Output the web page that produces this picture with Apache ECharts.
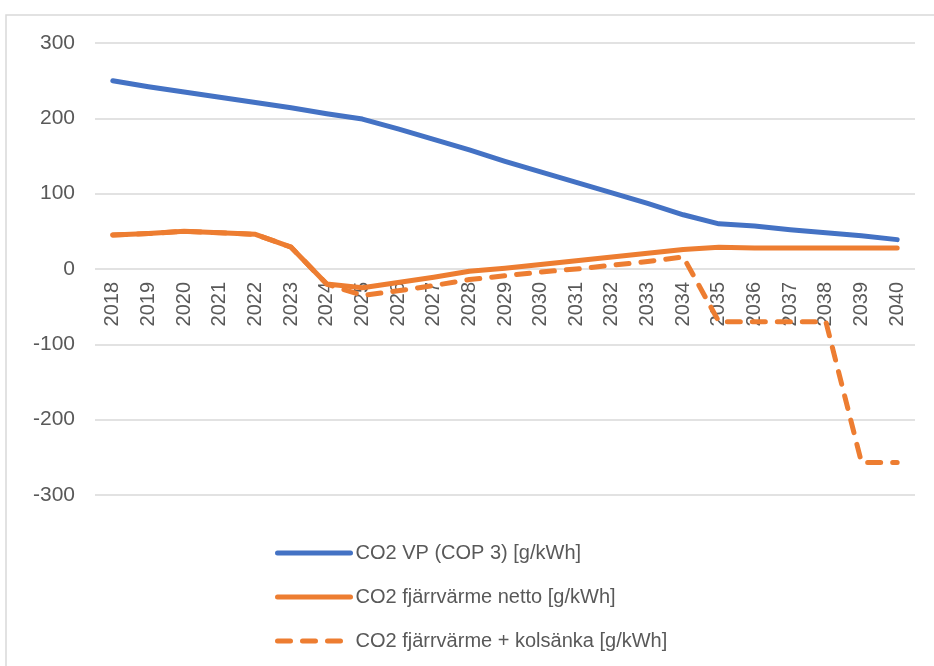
<!DOCTYPE html>
<html>
<head>
<meta charset="utf-8">
<style>
  html, body { margin: 0; padding: 0; background: #fff; }
  #chart { width: 934px; height: 666px; }
</style>
<script src="https://cdn.jsdelivr.net/npm/echarts@6/dist/echarts.min.js"></script>
</head>
<body>
<div id="chart"></div>
<script>
// years on the x axis
const years = ['2018', '2019', '2020', '2021', '2022', '2023', '2024', '2025', '2026', '2027', '2028',
  '2029', '2030', '2031', '2032', '2033', '2034', '2035', '2036', '2037', '2038', '2039', '2040']

const vpCop3 = [250, 242, 235, 228, 221, 214, 206, 199, 186, 172, 158,
  143, 129, 115, 101, 87, 72, 60, 57, 52, 48, 44, 39]

const fvNetto = [45, 47, 50, 48, 46, 29, -20, -25, -18, -11, -3,
  1, 6, 11, 16, 21, 26, 29, 28, 28, 28, 28, 28]

const fvKolsanka = [45, 47, 50, 48, 46, 29, -20, -35, -29, -22, -14,
  -9, -4, 0, 5, 10, 16, -70, -70, -70, -70, -257, -257]

const names = [
  'CO2 VP (COP 3) [g/kWh]',
  'CO2 fjärrvärme netto [g/kWh]',
  'CO2 fjärrvärme + kolsänka [g/kWh]'
]

const blue = '#4472C4'
const orange = '#ED7D31'
const font = 'Liberation Sans'

const chart = echarts.init(document.getElementById('chart'))

chart.setOption({
  animation: false,
  textStyle: { fontFamily: font },
  graphic: [{
    type: 'rect',
    shape: { x: 6, y: 15, width: 1000, height: 1000 },
    style: { fill: 'none', stroke: '#d9d9d9', lineWidth: 1.5 },
    silent: true
  }],
  grid: {
    left: 95,
    right: 19,
    top: 43,
    bottom: 171
  },
  legend: {
    orient: 'vertical',
    left: 270,
    top: 538,
    itemWidth: 73,
    itemHeight: 20,
    itemGap: 24,
    itemStyle: { color: 'rgba(0,0,0,0)', borderWidth: 0 },
    lineStyle: { width: 5, cap: 'round' },
    textStyle: { fontSize: 20, color: '#595959', fontFamily: font, lineHeight: 20 },
    data: names
  },
  xAxis: {
    type: 'category',
    data: years,
    boundaryGap: true,
    // labels sit on the zero line (half of the y range above the bottom)
    offset: -226,
    axisTick: { show: false },
    axisLine: { show: false, onZero: false },
    axisLabel: {
      rotate: 90,
      interval: 0,
      margin: 13,
      fontSize: 20,
      color: '#595959'
    }
  },
  yAxis: {
    type: 'value',
    min: -300,
    max: 300,
    interval: 100,
    axisLine: { show: false },
    axisTick: { show: false },
    splitLine: { lineStyle: { color: '#d9d9d9', width: 1.5 } },
    axisLabel: { fontSize: 21, color: '#595959', margin: 20 }
  },
  series: [
    {
      name: names[0],
      type: 'line',
      data: vpCop3,
      symbol: 'none',
      z: 3,
      lineStyle: { color: blue, width: 5, cap: 'round', join: 'round' },
      itemStyle: { color: blue }
    },
    {
      name: names[1],
      type: 'line',
      data: fvNetto,
      symbol: 'none',
      z: 3,
      lineStyle: { color: orange, width: 5, cap: 'round', join: 'round' },
      itemStyle: { color: orange }
    },
    {
      name: names[2],
      type: 'line',
      data: fvKolsanka,
      symbol: 'none',
      z: 2,
      lineStyle: { color: orange, width: 5, type: [13, 12], cap: 'round', join: 'round' },
      itemStyle: { color: orange }
    }
  ]
})
</script>
</body>
</html>
